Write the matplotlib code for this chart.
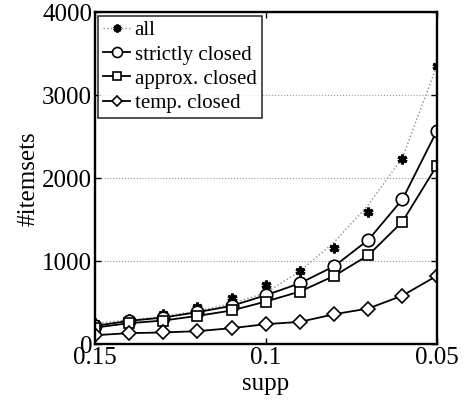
import matplotlib
matplotlib.use("Agg")
import matplotlib.pyplot as plt

plt.rcParams['font.family'] = ['Liberation Serif', 'DejaVu Serif']
plt.rcParams['mathtext.fontset'] = 'stix'

supp = [0.15, 0.14, 0.13, 0.12, 0.11, 0.10, 0.09, 0.08, 0.07, 0.06, 0.05]

all_sets = [260, 305, 361, 454, 554, 715, 884, 1157, 1590, 2229, 3357]
all_fit = [253, 290, 335, 400, 490, 620, 880, 1230, 1680, 2250, 3350]
strictly = [221, 281, 321, 386, 462, 590, 735, 940, 1257, 1747, 2566]
approx = [200, 253, 285, 341, 406, 514, 635, 823, 1072, 1478, 2149]
temp = [108, 133, 141, 157, 193, 241, 269, 361, 430, 586, 823]

fig = plt.figure(figsize=(4.68, 4.03), dpi=100)
ax = fig.add_axes([0.203, 0.146, 0.73, 0.823])

# dotted fit for "all", markers drawn separately
ax.plot(supp, all_fit, ':', color='0.55', lw=1.0)
ax.plot(supp, all_sets, ls='none', marker=(6, 2, 0), ms=7, mew=2.2, color='black')
h_all, = ax.plot([], [], ':', color='0.55', lw=1.0, marker=(6, 2, 0), ms=7, mew=2.2,
                 mec='black', mfc='black')

h1, = ax.plot(supp, strictly, '-', color='black', lw=1.3, marker='o', ms=9,
              mfc='white', mew=1.2)
h2, = ax.plot(supp, approx, '-', color='black', lw=1.3, marker='s', ms=7,
              mfc='white', mew=1.2)
h3, = ax.plot(supp, temp, '-', color='black', lw=1.3, marker='D', ms=7,
              mfc='white', mew=1.2)

ax.set_xlim(0.15, 0.05)
ax.set_ylim(0, 4000)
ax.set_xticks([0.15, 0.1, 0.05])
ax.set_xticklabels(['0.15', '0.1', '0.05'])
ax.set_yticks([0, 1000, 2000, 3000, 4000])
ax.tick_params(direction='in', top=True, right=True, labelsize=18, length=4, width=1, pad=2)
ax.yaxis.grid(True, ls=':', color='0.6', lw=0.8)
for s in ax.spines.values():
    s.set_linewidth(1.7)

ax.set_xlabel('supp', fontsize=18, labelpad=3)
ax.set_ylabel('#itemsets', fontsize=18, labelpad=2)

leg = ax.legend([h_all, h1, h2, h3],
                ['all', 'strictly closed', 'approx. closed', 'temp. closed'],
                loc='upper left', fontsize=15, frameon=True, fancybox=False,
                borderaxespad=0.15, handlelength=1.3, handletextpad=0.2,
                borderpad=0.25, labelspacing=0.22, markerscale=0.8)
leg.get_frame().set_edgecolor('black')
leg.get_frame().set_linewidth(1.2)

fig.savefig('out.png', dpi=100)
